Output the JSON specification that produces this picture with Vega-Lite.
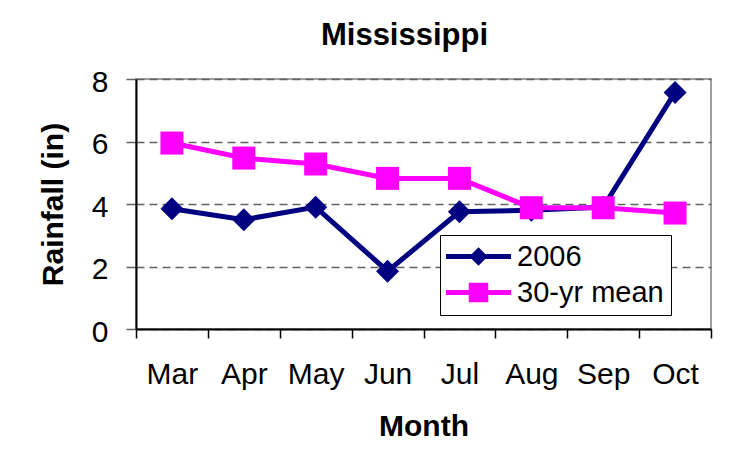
{
  "$schema": "https://vega.github.io/schema/vega-lite/v6.json",
  "width": 575,
  "height": 250,
  "autosize": "none",
  "padding": {"left": 136, "top": 79, "right": 25, "bottom": 135},
  "background": "white",
  "title": {"text": "Mississippi", "font": "Liberation Sans", "fontSize": 31, "fontWeight": "bold", "color": "black", "anchor": "middle", "dx": -19, "offset": 15, "frame": "group"},
  "data": {"values": [
    {"month": "Mar", "series": "2006", "rain": 3.85},
    {"month": "Apr", "series": "2006", "rain": 3.5},
    {"month": "May", "series": "2006", "rain": 3.9},
    {"month": "Jun", "series": "2006", "rain": 1.85},
    {"month": "Jul", "series": "2006", "rain": 3.75},
    {"month": "Aug", "series": "2006", "rain": 3.8},
    {"month": "Sep", "series": "2006", "rain": 3.9},
    {"month": "Oct", "series": "2006", "rain": 7.57},
    {"month": "Mar", "series": "30-yr mean", "rain": 5.95},
    {"month": "Apr", "series": "30-yr mean", "rain": 5.47},
    {"month": "May", "series": "30-yr mean", "rain": 5.28},
    {"month": "Jun", "series": "30-yr mean", "rain": 4.82},
    {"month": "Jul", "series": "30-yr mean", "rain": 4.82},
    {"month": "Aug", "series": "30-yr mean", "rain": 3.88},
    {"month": "Sep", "series": "30-yr mean", "rain": 3.88},
    {"month": "Oct", "series": "30-yr mean", "rain": 3.71}
  ]},
  "encoding": {
    "x": {
      "field": "month", "type": "ordinal",
      "sort": ["Mar", "Apr", "May", "Jun", "Jul", "Aug", "Sep", "Oct"],
      "scale": {"type": "band", "paddingInner": 0, "paddingOuter": 0},
      "axis": {
        "tickBand": "extent", "grid": false, "labelAngle": 0,
        "domainColor": "black", "domainWidth": 2,
        "tickColor": "black", "tickWidth": 1.5, "tickSize": 9,
        "labelFont": "Liberation Sans", "labelFontSize": 30, "labelColor": "black", "labelPadding": 21,
        "title": "Month", "titleFont": "Liberation Sans", "titleFontSize": 30, "titleFontWeight": "bold", "titleColor": "black", "titlePadding": 22
      }
    },
    "y": {
      "field": "rain", "type": "quantitative",
      "scale": {"domain": [0, 8], "nice": false},
      "axis": {
        "values": [0, 2, 4, 6, 8], "grid": true, "gridColor": "#606060", "gridDash": [8, 5], "gridWidth": 1.3,
        "domainColor": "black", "domainWidth": 2,
        "tickColor": "#606060", "tickWidth": 1.5, "tickSize": 10,
        "labelFont": "Liberation Sans", "labelFontSize": 30, "labelColor": "black", "labelPadding": 18, "labelOffset": 3,
        "title": "Rainfall (in)", "titleFont": "Liberation Sans", "titleFontSize": 30, "titleFontWeight": "bold", "titleColor": "black", "titlePadding": 23
      }
    }
  },
  "layer": [
    {
      "mark": {"type": "line", "strokeWidth": 5, "point": {"filled": true, "size": 529}},
      "encoding": {
        "color": {
          "field": "series", "type": "nominal",
          "scale": {"domain": ["2006", "30-yr mean"], "range": ["#000080", "#FF00FF"]},
          "legend": null
        },
        "shape": {
          "field": "series", "type": "nominal",
          "scale": {"domain": ["2006", "30-yr mean"], "range": ["diamond", "square"]},
          "legend": null
        }
      }
    },
    {
      "mark": {"type": "point", "filled": true, "opacity": 0, "size": 529},
      "encoding": {
        "color": {
          "field": "series", "type": "nominal",
          "scale": {"domain": ["2006", "30-yr mean"], "range": ["#000080", "#FF00FF"]},
          "legend": {
            "title": null, "orient": "none", "legendX": 304, "legendY": 156,
            "fillColor": "white", "strokeColor": "black", "cornerRadius": 0, "padding": 7,
            "symbolSize": 529, "symbolOpacity": 1, "labelOffset": 41, "rowPadding": 6,
            "labelFont": "Liberation Sans", "labelFontSize": 29, "labelColor": "black"
          }
        },
        "shape": {
          "field": "series", "type": "nominal",
          "scale": {"domain": ["2006", "30-yr mean"], "range": ["M-1.348,-0.217H4.304V0.217H-1.348ZM1.478,-0.8L2.278,0L1.478,0.8L0.678,0Z", "M-1.348,-0.217H4.304V0.217H-1.348ZM0.628,-0.85H2.328V0.85H0.628Z"]},
          "legend": {
            "title": null, "orient": "none", "legendX": 304, "legendY": 156,
            "fillColor": "white", "strokeColor": "black", "cornerRadius": 0, "padding": 7,
            "symbolSize": 529, "symbolOpacity": 1, "labelOffset": 41, "rowPadding": 6,
            "labelFont": "Liberation Sans", "labelFontSize": 29, "labelColor": "black"
          }
        }
      }
    }
  ],
  "resolve": {"scale": {"shape": "independent", "color": "independent"}},
  "config": {"view": {"stroke": "#808080", "strokeWidth": 1.5}}
}
